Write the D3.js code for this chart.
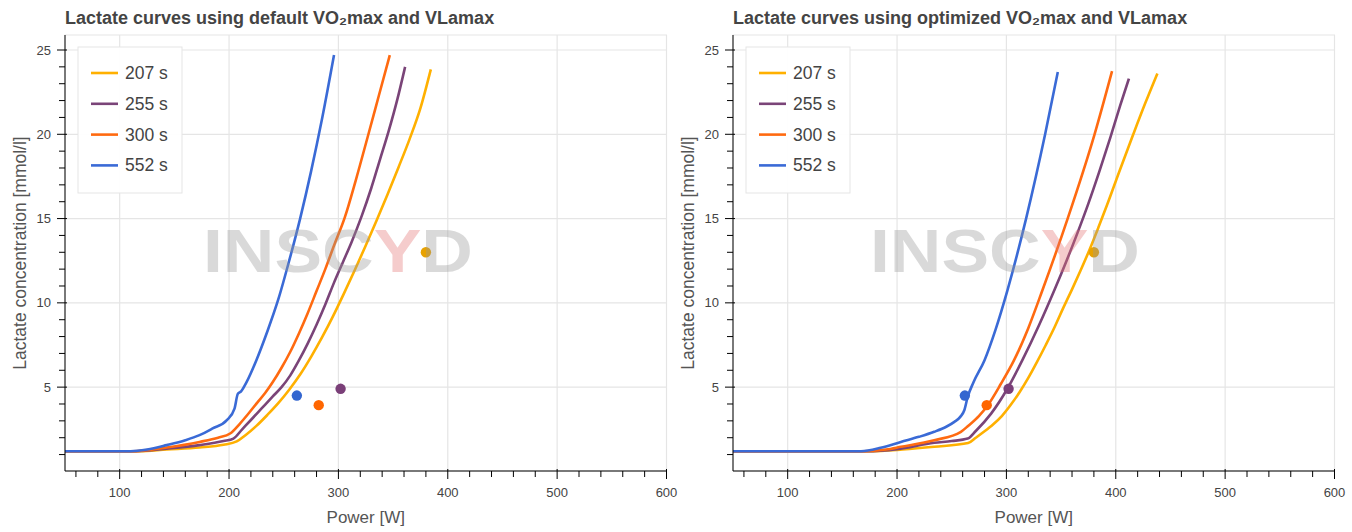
<!DOCTYPE html>
<html>
<head>
<meta charset="utf-8">
<script src="https://cdn.jsdelivr.net/npm/d3@7"></script>
<style>
  body { margin: 0; background: #fff; }
  text { font-family: "Liberation Sans", Arial, sans-serif; }
</style>
</head>
<body>
<div id="chart"></div>
<script>
// series labels + colours
const seriesNames = ["207 s", "255 s", "300 s", "552 s"];
const lineColors = ["#ffb000", "#7a4478", "#ff6a10", "#3a6ad6"];
const dotColors = ["#e8a200", "#7a3f78", "#ff6600", "#3366d0"];

// measured test points (power W, lactate mmol/l)
const testPower = [380, 302, 282, 262];
const testLactate = [13.0, 4.9, 3.93, 4.5];

// default VO2max / VLamax curves, [power, lactate]
const def207 = [[50,1.2],[118,1.2],[143,1.3],[173,1.42],[195,1.58],[207,1.78],[215,2.15],[225,2.7],[235,3.35],[245,4.05],[255,4.85],[265,5.75],[275,6.8],[285,7.95],[295,9.2],[305,10.55],[315,11.95],[325,13.4],[335,14.9],[345,16.45],[355,18.05],[365,19.7],[375,21.55],[384.5,23.85]];
const def255 = [[50,1.2],[115,1.2],[143,1.35],[173,1.56],[195,1.8],[204,1.95],[212,2.5],[220,3.05],[230,3.75],[240,4.45],[248,5.0],[256,5.7],[264,6.6],[272,7.6],[280,8.7],[288,9.9],[296,11.2],[304,12.4],[312,13.6],[321,15.1],[330,16.8],[338,18.5],[346,20.2],[354,22.1],[361,24]];
const def300 = [[50,1.2],[113,1.2],[143,1.42],[173,1.75],[190,2.0],[201,2.25],[210,2.84],[218,3.45],[226,4.1],[233,4.65],[240,5.3],[248,6.15],[256,7.1],[264,8.2],[272,9.4],[280,10.7],[288,12.0],[296,13.4],[306,15.1],[316,17.3],[327,19.9],[337,22.3],[347,24.7]];
const def552 = [[50,1.2],[110,1.2],[125,1.3],[143,1.56],[160,1.85],[173,2.15],[185,2.55],[198,3.04],[205,3.73],[208,4.6],[211,4.75],[216,5.3],[225,6.6],[235,8.3],[245,10.2],[255,12.5],[265,15.0],[275,17.8],[285,20.9],[296,24.7]];

// optimized VO2max / VLamax curves
const opt207 = [[50,1.2],[175,1.2],[205,1.3],[234,1.46],[265,1.68],[272,2.0],[280,2.38],[288,2.8],[296,3.3],[304,3.95],[312,4.7],[320,5.55],[328,6.5],[336,7.5],[344,8.55],[352,9.7],[360,10.8],[368,11.95],[376,13.15],[384,14.45],[392,15.8],[403,17.75],[416,20.0],[427,21.85],[438,23.6]];
const opt255 = [[50,1.2],[172,1.2],[200,1.32],[234,1.7],[250,1.8],[264.6,1.95],[272,2.4],[286,3.43],[301,4.92],[314.6,6.6],[330,8.7],[343.9,10.76],[355,12.5],[365,14.15],[375,15.9],[385,17.8],[395,19.8],[404,21.7],[412,23.3]];
const opt300 = [[50,1.2],[170,1.2],[190,1.3],[203.5,1.46],[234,1.85],[258.4,2.35],[265,2.7],[275,3.3],[283,3.93],[295,5.2],[307,6.6],[320,8.5],[333,10.76],[356,15],[380.6,20],[396.6,23.75]];
const opt552 = [[50,1.2],[167,1.2],[185,1.4],[203.5,1.75],[220,2.05],[234,2.35],[245,2.65],[252.4,2.94],[258,3.25],[261.5,3.63],[264.6,4.42],[270,5.3],[280,6.6],[290,8.4],[301,10.76],[318,15],[335.4,20],[347,23.7]];

const xTicks = [100, 200, 300, 400, 500, 600];
const yTicks = [5, 10, 15, 20, 25];

const W = 1352, H = 532;
const svg = d3.select("#chart").append("svg")
  .attr("width", W).attr("height", H);

function drawPanel(left, figW, title, curves) {
  const g = svg.append("g");
  const x0 = left + 65, x1 = left + 666.5;
  const top = 35, bottom = 471;

  const x = d3.scaleLinear().domain([50, 600]).range([x0, x1]);
  const y = d3.scaleLinear().domain([0.025, 25.89]).range([bottom, top]);

  // grid
  g.selectAll(".vgrid").data(xTicks).enter().append("line")
    .attr("x1", d => x(d)).attr("x2", d => x(d))
    .attr("y1", top).attr("y2", bottom)
    .attr("stroke", "#e5e5e5").attr("stroke-width", 1.2);
  g.selectAll(".hgrid").data(yTicks).enter().append("line")
    .attr("x1", x0).attr("x2", x1)
    .attr("y1", d => y(d)).attr("y2", d => y(d))
    .attr("stroke", "#e5e5e5").attr("stroke-width", 1.2);
  // outline
  g.append("rect").attr("x", x0).attr("y", top)
    .attr("width", x1 - x0).attr("height", bottom - top)
    .attr("fill", "none").attr("stroke", "#e5e5e5");

  // curves
  const line = d3.line()
    .x(d => x(d[0])).y(d => y(d[1]))
    .curve(d3.curveMonotoneX);
  curves.forEach((c, i) => {
    g.append("path").datum(c)
      .attr("d", line)
      .attr("fill", "none")
      .attr("stroke", lineColors[i])
      .attr("stroke-width", 2.6)
      .attr("stroke-linejoin", "round");
  });

  // test points
  g.selectAll(".dot").data(testPower).enter().append("circle")
    .attr("cx", d => x(d))
    .attr("cy", (d, i) => y(testLactate[i]))
    .attr("r", 5.2)
    .attr("fill", (d, i) => dotColors[i]);

  // watermark, centred in the figure
  const wm = g.append("text")
    .attr("x", left + figW / 2).attr("y", 272)
    .attr("text-anchor", "middle")
    .attr("font-family", "DejaVu Sans")
    .attr("font-weight", "bold")
    .attr("font-size", 61)
    .attr("textLength", 270)
    .attr("lengthAdjust", "spacingAndGlyphs")
    .attr("opacity", 0.36);
  wm.append("tspan").attr("fill", "#999").text("INSC");
  wm.append("tspan").attr("fill", "#e57373").text("Y");
  wm.append("tspan").attr("fill", "#999").text("D");

  // axes
  const xAxis = g.append("g").attr("transform", `translate(0,${bottom})`);
  xAxis.append("line").attr("x1", x0).attr("x2", x1).attr("stroke", "#000");
  const xMinor = d3.range(60, 601, 20).filter(v => v % 100 !== 0);
  xAxis.selectAll(".mn").data(xMinor).enter().append("line")
    .attr("x1", d => x(d)).attr("x2", d => x(d))
    .attr("y1", 0).attr("y2", 6).attr("stroke", "#000");
  xAxis.selectAll(".mj").data(xTicks).enter().append("line")
    .attr("x1", d => x(d)).attr("x2", d => x(d))
    .attr("y1", -2).attr("y2", 8).attr("stroke", "#000");
  xAxis.selectAll(".lb").data(xTicks).enter().append("text")
    .attr("x", d => x(d)).attr("y", 26)
    .attr("text-anchor", "middle")
    .attr("font-size", 13).attr("fill", "#444")
    .text(d => d);

  const yAxis = g.append("g").attr("transform", `translate(${x0},0)`);
  yAxis.append("line").attr("y1", top).attr("y2", bottom).attr("stroke", "#000");
  const yMinor = d3.range(1, 26, 1).filter(v => v % 5 !== 0);
  yAxis.selectAll(".mn").data(yMinor).enter().append("line")
    .attr("y1", d => y(d)).attr("y2", d => y(d))
    .attr("x1", 0).attr("x2", -6).attr("stroke", "#000");
  yAxis.selectAll(".mj").data(yTicks).enter().append("line")
    .attr("y1", d => y(d)).attr("y2", d => y(d))
    .attr("x1", 2).attr("x2", -8).attr("stroke", "#000");
  yAxis.selectAll(".lb").data(yTicks).enter().append("text")
    .attr("x", -14).attr("y", d => y(d) + 4.5)
    .attr("text-anchor", "end")
    .attr("font-size", 13).attr("fill", "#444")
    .text(d => d);

  // axis labels
  g.append("text")
    .attr("x", (x0 + x1) / 2).attr("y", 523)
    .attr("text-anchor", "middle")
    .attr("font-size", 17).attr("fill", "#555")
    .text("Power [W]");
  g.append("text")
    .attr("transform", `translate(${left + 26},${(top + bottom) / 2}) rotate(-90)`)
    .attr("text-anchor", "middle")
    .attr("font-size", 17.5).attr("fill", "#555")
    .text("Lactate concentration [mmol/l]");

  // title
  g.append("text")
    .attr("x", x0).attr("y", 24)
    .attr("font-size", 18).attr("font-weight", "bold").attr("fill", "#444")
    .text(title);

  // legend
  const lg = g.append("g").attr("transform", `translate(${left + 78},47)`);
  lg.append("rect").attr("width", 104).attr("height", 146)
    .attr("fill", "#fff").attr("fill-opacity", 0.95)
    .attr("stroke", "#e5e5e5");
  seriesNames.forEach((s, i) => {
    const yy = 26 + i * 30.8;
    lg.append("line").attr("x1", 13).attr("x2", 40)
      .attr("y1", yy).attr("y2", yy)
      .attr("stroke", lineColors[i]).attr("stroke-width", 2.6);
    lg.append("text").attr("x", 47).attr("y", yy + 6)
      .attr("font-size", 17.5).attr("fill", "#444")
      .text(s);
  });
}

drawPanel(0, 676, "Lactate curves using default VO\u2082max and VLamax",
  [def207, def255, def300, def552]);
drawPanel(668, 674, "Lactate curves using optimized VO\u2082max and VLamax",
  [opt207, opt255, opt300, opt552]);
</script>
</body>
</html>
